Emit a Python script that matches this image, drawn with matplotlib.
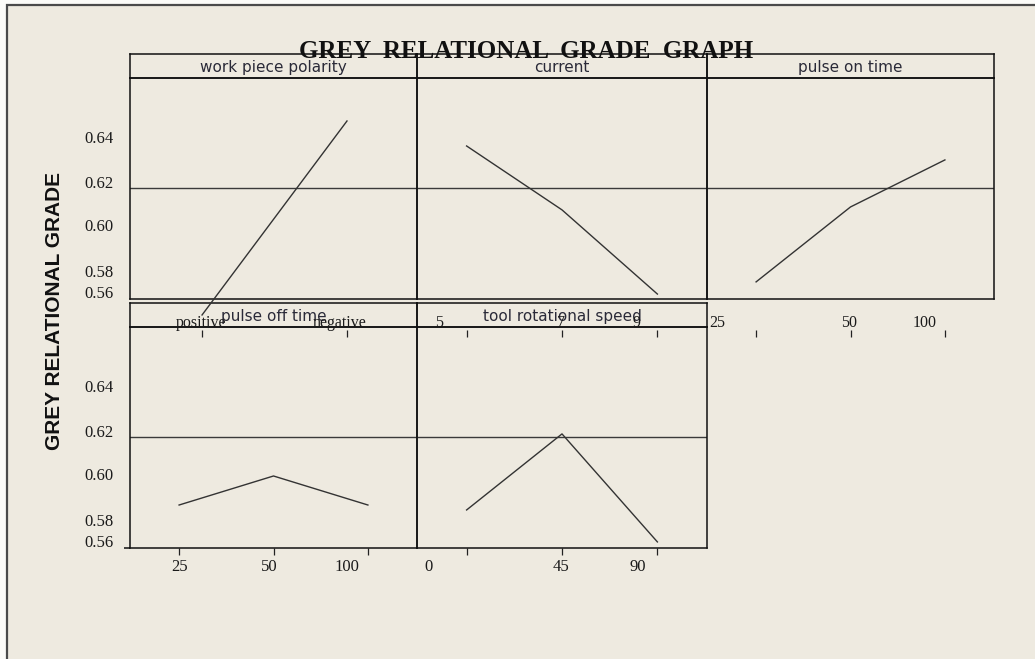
import matplotlib
matplotlib.use('Agg')
import matplotlib.pyplot as plt
from matplotlib.patches import Rectangle

# factor names and their levels
factors = ['work piece polarity', 'current', 'pulse on time', 'pulse off time', 'tool rotational speed']
levels_polarity = ['positive', 'negative']
levels_current = ['5', '7', '9']
levels_pulse_on = ['25', '50', '100']
levels_pulse_off = ['25', '50', '100']
levels_speed = ['0', '45', '90']

# mean grey relational grade per level
grg_polarity = [0.5636, 0.6498]
grg_current = [0.6387, 0.6103, 0.5729]
grg_pulse_on = [0.5783, 0.6116, 0.6325]
grg_pulse_off = [0.5898, 0.6027, 0.5898]
grg_speed = [0.5876, 0.6214, 0.5734]
grg_mean = 0.62

ytick_text = ['0.64', '0.62', '0.60', '0.58', '0.56']
ytick_at = [0.6425, 0.6227, 0.6035, 0.5831, 0.5736]

W, H = 1035, 659
BG = '#eeeae0'
INK = '#1a1a1a'
SERIF = ['Liberation Serif', 'DejaVu Serif']
SANS = ['DejaVu Sans']
YLIM = (0.5707, 0.6689)


def rect(x0, y0, x1, y1):
    # pixel box (top-left origin) -> figure fraction
    return [x0 / W, 1 - y1 / H, (x1 - x0) / W, (y1 - y0) / H]


def xlim_for(n):
    return (-0.497, 1.483) if n == 2 else (-0.52, 2.52)


def strip(fig, x0, x1, y0, y1, text):
    s = fig.add_axes(rect(x0, y0, x1, y1))
    s.patch.set_alpha(0)
    s.set_xticks([])
    s.set_yticks([])
    for sp in s.spines.values():
        sp.set_linewidth(1.1)
        sp.set_color('#111111')
    s.text(0.5, 0.45, text, transform=s.transAxes, ha='center', va='center',
           fontsize=11, family=SANS, color='#2a2a38')
    return s


def panel(fig, x0, x1, y0, y1, vals, left):
    ax = fig.add_axes(rect(x0, y0, x1, y1))
    ax.patch.set_alpha(0)
    xs = list(range(len(vals)))
    ax.plot(xs, vals, color='#333333', lw=1.0, clip_on=False, zorder=5)
    ax.axhline(grg_mean, color='#3a3a3a', lw=1.0)
    ax.set_xlim(xlim_for(len(vals)))
    ax.set_ylim(YLIM)
    for sp in ax.spines.values():
        sp.set_linewidth(1.1)
        sp.set_color('#111111')
    ax.set_xticks([])
    if left:
        ax.set_yticks(ytick_at, ytick_text)
        ax.tick_params(axis='y', length=0, pad=12, labelsize=12, labelcolor=INK)
        for t in ax.get_yticklabels():
            t.set_family(SERIF)
    else:
        ax.set_yticks([])
    return ax


def level_axis(ax, n, labels, shift, on_top):
    ax.xaxis.remove_overlapping_locs = False
    xs = list(range(n))
    ax.set_xticks(xs, [''] * n)
    ax.set_xticks([x + d for x, d in zip(xs, shift)], labels, minor=True)
    ax.tick_params(axis='x', which='major', direction='out', length=5, width=0.9, color='#222222')
    if on_top:
        ax.tick_params(axis='x', which='minor', length=0, bottom=False, top=False,
                       labelbottom=False, labeltop=True, pad=-1, labelsize=11.5, labelcolor=INK)
    else:
        ax.tick_params(axis='x', which='minor', length=0, pad=8, labelsize=12, labelcolor=INK)
    for t in ax.get_xticklabels(minor=True):
        t.set_family(SERIF)


fig = plt.figure(figsize=(W / 100, H / 100), dpi=100)
fig.patch.set_facecolor('#fbfbf8')
frame = Rectangle((7 / W, -0.01), 1.05, 1 - 5 / H + 0.01, transform=fig.transFigure,
                  facecolor=BG, edgecolor='#4a4a4a', lw=1.6, zorder=-10)
fig.add_artist(frame)

top_x = [(130, 417), (417, 707), (707, 994)]
bot_x = [(130, 417), (417, 707)]
top_vals = [grg_polarity, grg_current, grg_pulse_on]
bot_vals = [grg_pulse_off, grg_speed]
top_levels = [levels_polarity, levels_current, levels_pulse_on]
bot_levels = [levels_pulse_off, levels_speed]
top_shift = [[-0.01, -0.05], [-0.29, -0.01, -0.22], [-0.41, -0.02, -0.21]]
bot_shift = [[0.0, -0.04, -0.22], [-0.40, -0.01, -0.21]]

# bottom row
for i, (x0, x1) in enumerate(bot_x):
    strip(fig, x0, x1, 303, 327, factors[3 + i])
    ax = panel(fig, x0, x1, 327, 548, bot_vals[i], i == 0)
    level_axis(ax, 3, bot_levels[i], bot_shift[i], False)
    if i == 0:
        ax.set_yticks([YLIM[0]], minor=True)
        ax.tick_params(axis='y', which='minor', length=4.5, width=1.1, color='#111111')

# top row
for i, (x0, x1) in enumerate(top_x):
    strip(fig, x0, x1, 54, 78, factors[i])
    ax = panel(fig, x0, x1, 78, 299, top_vals[i], i == 0)
    # the level scale of the top row sits below the panels
    lx = fig.add_axes(rect(x0, 329.5, x1, 330))
    lx.patch.set_alpha(0)
    for sp in lx.spines.values():
        sp.set_visible(False)
    lx.set_yticks([])
    lx.set_xlim(xlim_for(len(top_vals[i])))
    level_axis(lx, len(top_vals[i]), top_levels[i], top_shift[i], True)

fig.text(526 / W, 1 - 51 / H, 'GREY  RELATIONAL  GRADE  GRAPH', ha='center', va='center',
         fontsize=18, fontweight='bold', family=SERIF, color='#111111', zorder=-5)
fig.text(55 / W, 1 - 311 / H, 'GREY RELATIONAL GRADE', rotation=90, ha='center', va='center',
         fontsize=15, fontweight='bold', family=['Liberation Sans', 'DejaVu Sans'], color='#111111')

fig.savefig('out.png', dpi=100, facecolor=fig.get_facecolor())
